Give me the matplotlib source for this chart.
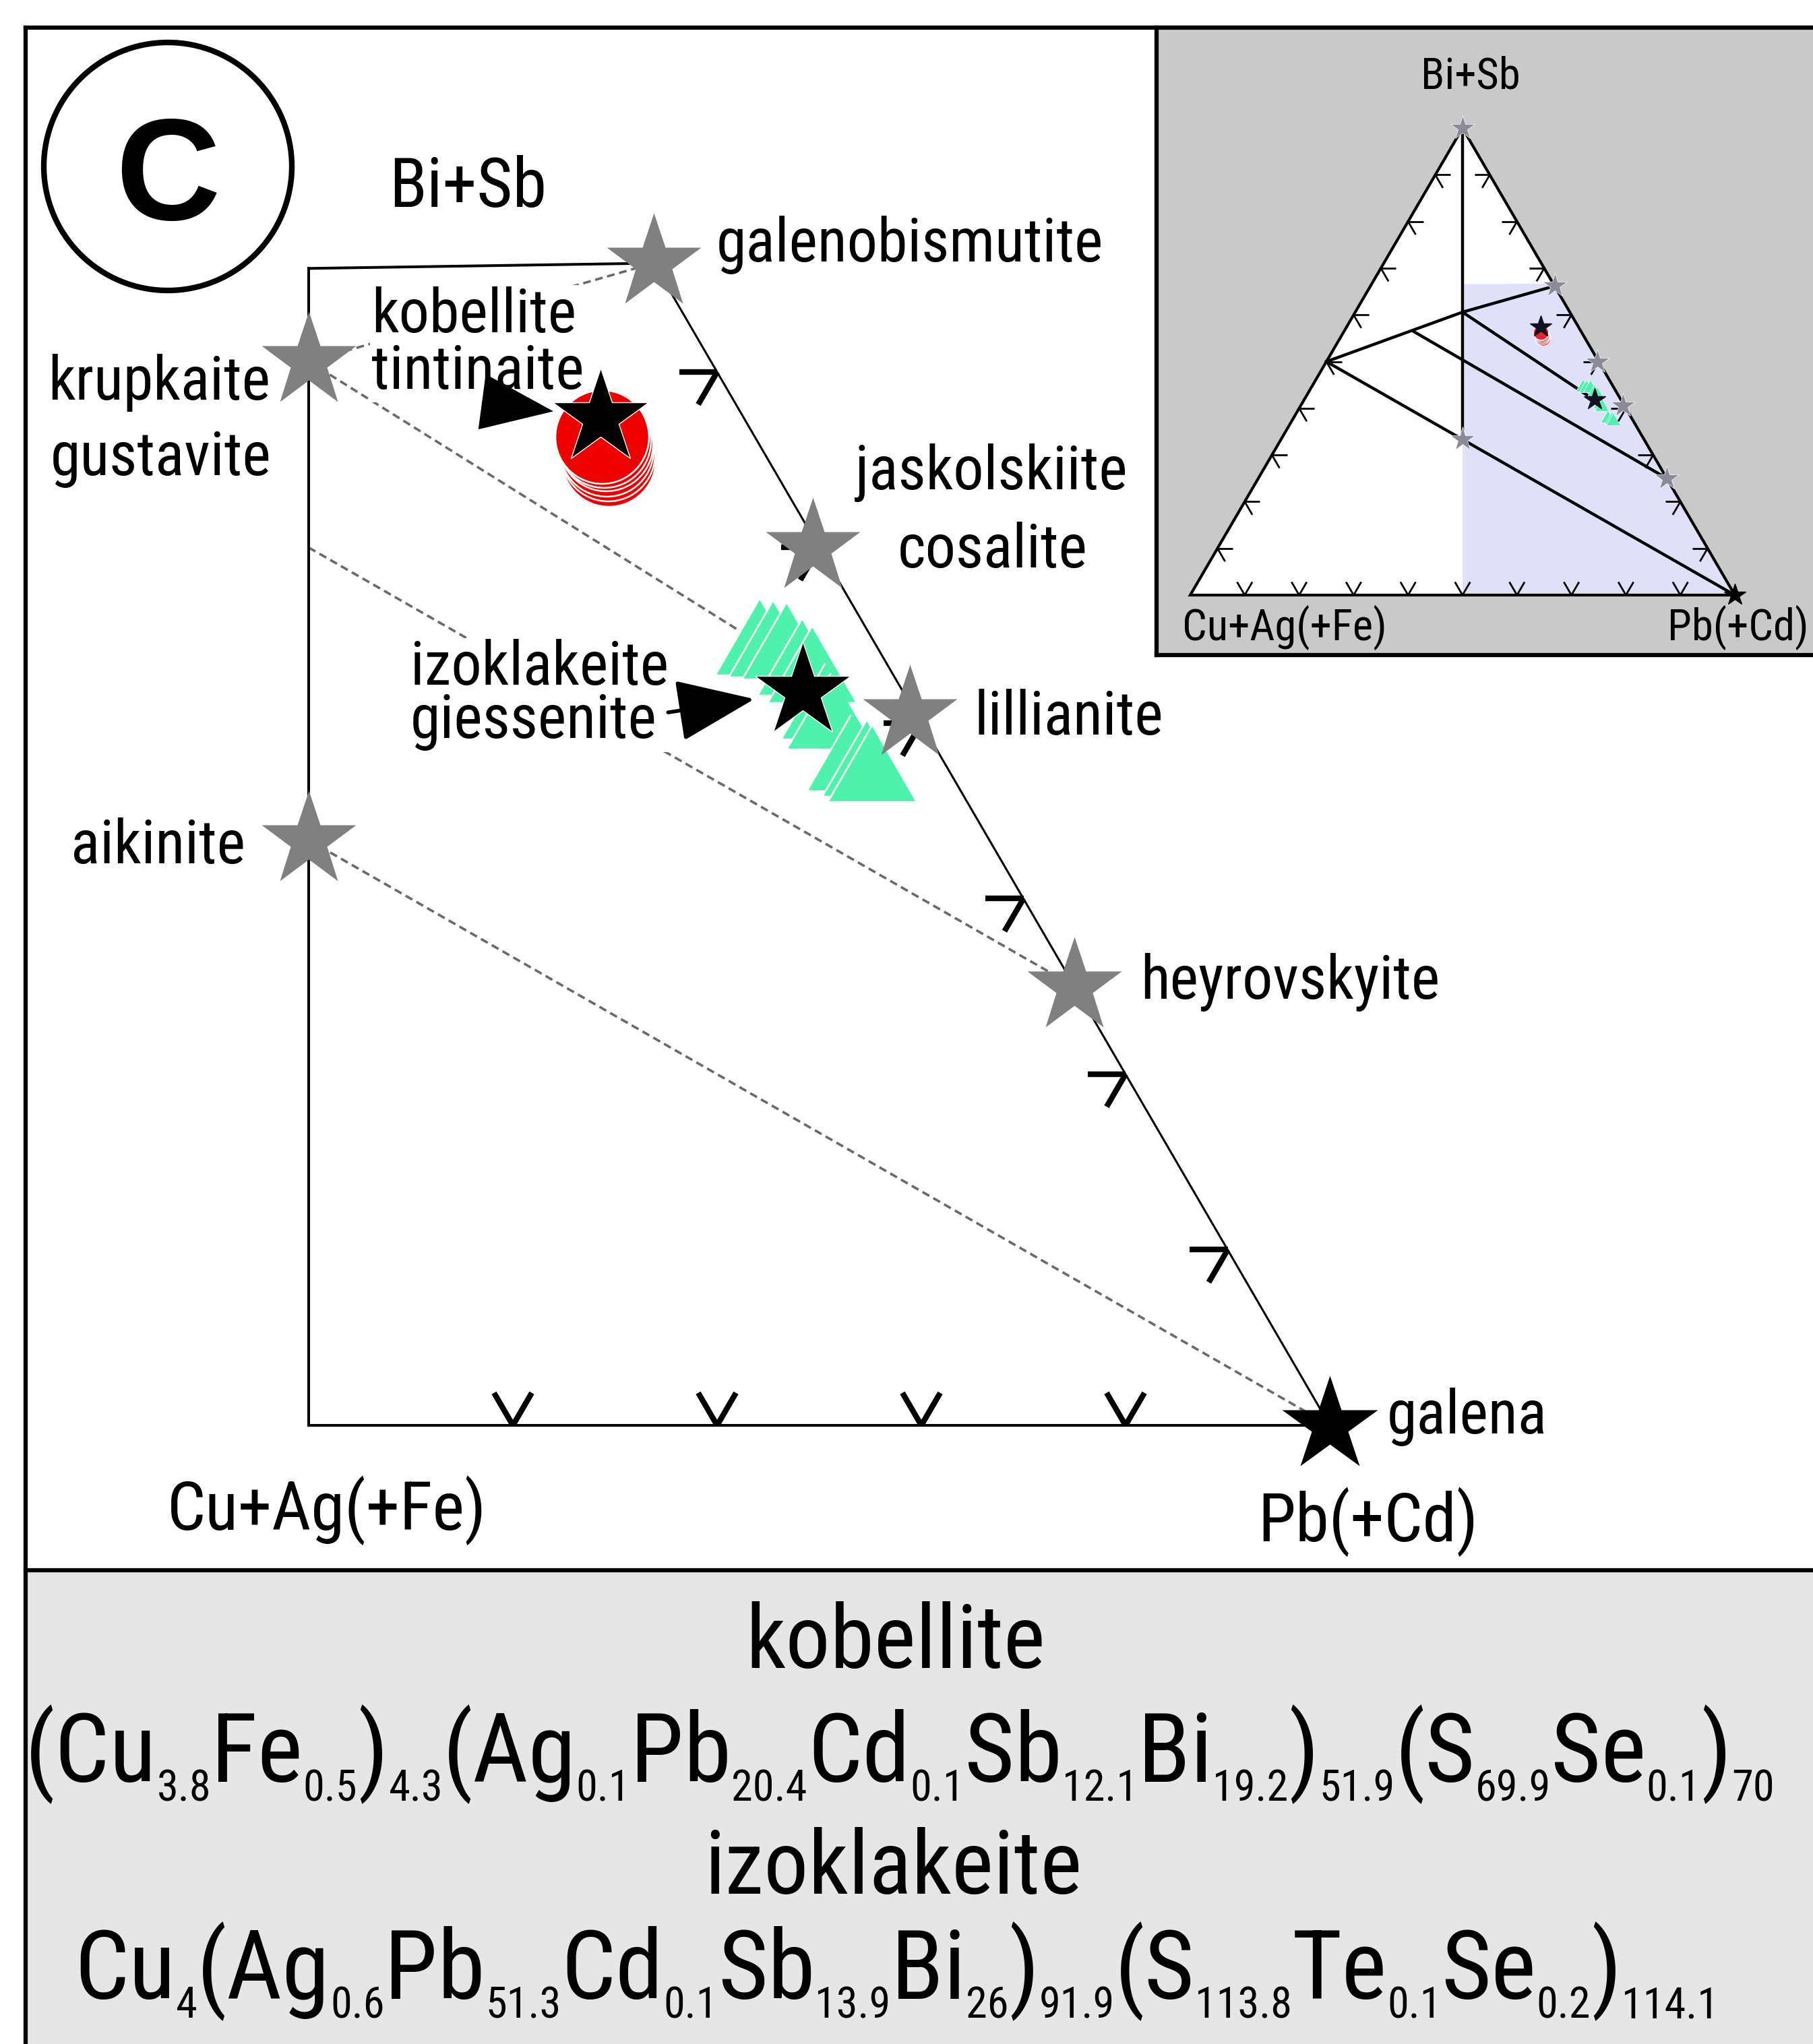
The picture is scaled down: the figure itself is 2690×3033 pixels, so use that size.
import re
import numpy as np
import matplotlib
matplotlib.use('Agg')
import matplotlib.pyplot as plt
from matplotlib import font_manager as fm
from matplotlib.font_manager import FontProperties
from matplotlib.patches import Rectangle, Circle, Polygon
from matplotlib.collections import LineCollection

W, H, DPI = 2690, 3033, 100

# narrow sans if there is one, otherwise plain Liberation Sans a bit smaller
names = {f.name for f in fm.fontManager.ttflist}
FONT, K = 'Liberation Sans', 0.86
for n, k in [('Liberation Sans Narrow', 1.0), ('Arial Narrow', 1.0),
             ('Roboto Condensed', 0.97), ('Open Sans Condensed', 0.95)]:
    if n in names:
        FONT, K = n, k
        break
FAMILY = [FONT, 'DejaVu Sans']
plt.rcParams['font.family'] = FAMILY

# compositions in atomic %: Cu+Ag(+Fe), Pb(+Cd), Bi+Sb
ref_cu = [0.0, 19.7, 0.3, 0.3, 0.0, 33.3]          # galenobismutite, krupkaite, cosalite,
ref_pb = [33.8, 19.7, 49.7, 59.2, 75.0, 33.3]      # lillianite, heyrovskyite, aikinite
ref_bi = [66.2, 60.6, 50.0, 40.5, 25.0, 33.3]
galena = [0.0, 100.0, 0.0]

# kobellite and izoklakeite (mean compositions)
new_cu = [7.0, 4.9]
new_pb = [35.6, 53.3]
new_bi = [57.4, 41.8]

# kobellite analyses
kob_cu = [7.8, 7.7, 7.6, 7.5, 7.5, 7.5]
kob_pb = [37.2, 37.0, 36.8, 36.6, 36.4, 36.2]
kob_bi = [55.0, 55.3, 55.6, 55.9, 56.1, 56.3]

# izoklakeite analyses
izo_cu = [5.5, 4.9, 4.3, 4.0, 3.7, 4.1, 4.1, 4.3, 3.7, 3.6]
izo_pb = [49.6, 50.3, 51.0, 52.3, 53.0, 54.7, 55.2, 57.4, 58.3, 58.7]
izo_bi = [44.9, 44.8, 44.7, 43.8, 43.4, 41.3, 40.7, 38.3, 38.0, 37.7]

# dashed tie lines in the enlarged field
tie_lines = [
    [(19.7, 19.7, 60.6), (0.0, 33.8, 66.2)],
    [(19.7, 19.7, 60.6), (4.3, 52.7, 43.0)],
    [(25.0, 25.0, 50.0), (0.0, 75.0, 25.0)],
    [(33.3, 33.3, 33.3), (0.0, 100.0, 0.0)],
]
# enlarged field outline
field = [(17.05, 17.05, 65.9), (0.0, 33.8, 66.2), (0.0, 100.0, 0.0), (50.0, 50.0, 0.0)]
field_lw = [2.9, 2.2, 2.9, 2.9]

# inset tie lines
inset_lines = [
    [(0, 0, 100), (33.3, 33.3, 33.3)],
    [(50, 0, 50), (19.7, 19.7, 60.6), (0, 33.8, 66.2)],
    [(30.7, 12.9, 56.4), (0, 75, 25)],
    [(19.7, 19.7, 60.6), (4.9, 53.3, 41.8)],
    [(50, 0, 50), (33.3, 33.3, 33.3), (0, 100, 0)],
]
inset_field = [(16.7, 16.7, 66.6), (0, 33.3, 66.7), (0, 100, 0), (50, 50, 0)]
inset_stars = [(0, 0, 100)] + list(zip(ref_cu, ref_pb, ref_bi))
inset_stars = [s for i, s in enumerate(inset_stars) if i != 2]  # no star on krupkaite

main_bottom_ticks = [60, 70, 80, 90]
main_right_ticks = [10, 20, 30, 40, 50, 60]
inset_ticks = [10, 20, 30, 40, 50, 60, 70, 80, 90]

kob_formula = '(Cu_{3.8}Fe_{0.5})_{4.3}(Ag_{0.1}Pb_{20.4}Cd_{0.1}Sb_{12.1}Bi_{19.2})_{51.9}(S_{69.9}Se_{0.1})_{70}'
izo_formula = 'Cu_{4}(Ag_{0.6}Pb_{51.3}Cd_{0.1}Sb_{13.9}Bi_{26})_{91.9}(S_{113.8}Te_{0.1}Se_{0.2})_{114.1}'


def tern(cu, pb, bi):
    cu, pb, bi = (np.asarray(v, float) for v in (cu, pb, bi))
    s = cu + pb + bi
    return (pb + bi / 2) / s, bi / s * np.sqrt(3) / 2


def tern_pts(pts):
    c = np.array(pts, float)
    return tern(c[:, 0], c[:, 1], c[:, 2])


fig = plt.figure(figsize=(W / DPI, H / DPI), dpi=DPI)
rend = fig.canvas.get_renderer()

# page frame, pixel coordinates
bg = fig.add_axes([0, 0, 1, 1], zorder=0)
bg.set_xlim(0, W)
bg.set_ylim(H, 0)
bg.axis('off')
bg.add_patch(Rectangle((38, 2330), W - 38, H - 2330, fc='#e6e6e6', ec='none'))
bg.plot([38, W], [41, 41], color='k', lw=4.5, solid_capstyle='projecting')
bg.plot([38, 38], [41, H], color='k', lw=4.5)
bg.plot([38, W], [2330, 2330], color='k', lw=4.5)
bg.add_patch(Circle((249, 247), 184, fill=False, ec='k', lw=6))
bg.text(249, 326, 'C', fontsize=155, fontweight='bold', family='Liberation Sans',
        ha='center', va='baseline')

# main enlarged ternary field
ax = fig.add_axes([0, 0, 1, 1], zorder=1)
ax.set_xlim(0.5 - 458 / 3030, 0.5 + (W - 458) / 3030)
ax.set_ylim((2115 - H) / 3008, 2115 / 3008)
ax.axis('off')
ax.patch.set_visible(False)

fx, fy = tern_pts(field)
for i in range(4):
    j = (i + 1) % 4
    ax.plot([fx[i], fx[j]], [fy[i], fy[j]], color='k', lw=field_lw[i], zorder=2,
            solid_capstyle='projecting')

for seg in tie_lines:
    x, y = tern_pts(seg)
    ax.plot(x, y, color='#6a6a6a', lw=2.6, ls=(0, (3.2, 1.9)), zorder=1.5)

L = 0.0185
c60, s60 = 0.5, np.sqrt(3) / 2
segs = []
bx, by = tern([100 - p for p in main_bottom_ticks], main_bottom_ticks, [0] * 4)
for x, y in zip(bx, by):
    segs += [[(x, y), (x - L * c60, y + L * s60)], [(x, y), (x + L * c60, y + L * s60)]]
rx, ry = tern([0] * 6, [100 - b for b in main_right_ticks], main_right_ticks)
for x, y in zip(rx, ry):
    segs += [[(x, y), (x - L, y)], [(x, y), (x - L * c60, y - L * s60)]]
ax.add_collection(LineCollection(segs, colors='k', lw=6, zorder=2, capstyle='butt'))

x, y = tern(kob_cu, kob_pb, kob_bi)
ax.plot(x, y, ls='none', marker='o', ms=100, mfc='#ee0000', mec='white', mew=1.8, zorder=4)
tri = [(0, 0.866), (-1, -0.866), (1, -0.866)]
x, y = tern(izo_cu, izo_pb, izo_bi)
for xi, yi in zip(x, y):
    ax.plot(xi, yi, ls='none', marker=tri, ms=94, mfc='#4ef2ad', mec='white', mew=1.8, zorder=4)

x, y = tern(ref_cu, ref_pb, ref_bi)
ax.plot(x, y, ls='none', marker='*', ms=106, color='#808080', mec='none', zorder=5)
x, y = tern(*galena)
ax.plot(x, y, ls='none', marker='*', ms=107, color='k', mec='none', zorder=6)
nx, ny = tern(new_cu, new_pb, new_bi)
ax.plot(nx, ny, ls='none', marker='*', ms=107, color='k', mec='white', mew=1, zorder=6)

# arrows pointing at the two new minerals
ax.annotate('', xy=(nx[0], ny[0]), xytext=(-172, 23), textcoords='offset pixels',
            arrowprops=dict(arrowstyle='-|>,head_length=7.5,head_width=2.9',
                            mutation_scale=10, color='k', lw=1, shrinkA=0, shrinkB=51),
            zorder=7)
ax.annotate('', xy=(nx[1], ny[1]), xytext=(-200, -31), textcoords='offset pixels',
            arrowprops=dict(arrowstyle='-|>,head_length=7.3,head_width=2.9',
                            mutation_scale=10, color='k', lw=4, shrinkA=0, shrinkB=52.5),
            zorder=7)


def label(s, x, y, size=67, ha='left', box=False, gap=None):
    # y is the baseline of the first line, in page pixels
    prop = FontProperties(family=FAMILY, size=size * K)
    kw = {}
    va = 'baseline'
    if '\n' in s:
        w, h, d = rend.get_text_width_height_descent('lp', prop, ismath=False)
        y, va = y - (h - d), 'top'
        kw['linespacing'] = (gap - d) / (h - d)
    t = ax.text(x, y, s, transform=bg.transData, fontproperties=prop, ha=ha,
                va=va, zorder=3, **kw)
    if box:
        t.set_bbox(dict(fc='white', ec='none', pad=1))


label('Bi+Sb', 694, 307, 76, 'center')
label('galenobismutite', 1063, 388)
label('kobellite\ntintinaite', 551, 493, box=True, gap=84)
label('krupkaite', 401, 593, ha='right')
label('gustavite', 75, 705)
label('jaskolskiite', 1269, 726)
label('cosalite', 1332, 842)
label('izoklakeite\ngiessenite', 609, 1016, box=True, gap=79)
label('lillianite', 1445, 1090)
label('aikinite', 105, 1281)
label('heyrovskyite', 1692, 1482)
label('galena', 2058, 2127)
label('Cu+Ag(+Fe)', 248, 2270, 75)
label('Pb(+Cd)', 1866, 2287, 75)

# inset: whole ternary
ins = fig.add_axes([1716 / W, 1 - 972 / H, (W - 1716) / W, (972 - 41) / H], zorder=2)
ins.set_xlim((1716 - 1766) / 808, (W - 1766) / 808)
ins.set_ylim((883 - 972) / 800, (883 - 41) / 800)
ins.set_facecolor('#c9c9c9')
ins.set_xticks([])
ins.set_yticks([])
for s in ['left', 'bottom', 'top']:
    ins.spines[s].set_linewidth(4.5)
ins.spines['right'].set_visible(False)

apex = np.sqrt(3) / 2
ins.add_patch(Polygon([(0, 0), (1, 0), (0.5, apex)], closed=True, fc='white', ec='none', zorder=1))
fx, fy = tern_pts(inset_field)
ins.add_patch(Polygon(np.c_[fx, fy], closed=True, fc='#e0e0f8', ec='none', zorder=1.2))
ins.add_patch(Polygon([(0, 0), (1, 0), (0.5, apex)], closed=True, fill=False,
                      ec='k', lw=3.0, zorder=2))
for seg in inset_lines:
    x, y = tern_pts(seg)
    ins.plot(x, y, color='k', lw=3.2, zorder=2)

Li = 0.028
segs = []
t = np.array(inset_ticks, float)
for x, y in zip(*tern(100 - t, t, 0 * t)):
    segs += [[(x, y), (x - Li * c60, y + Li * s60)], [(x, y), (x + Li * c60, y + Li * s60)]]
for x, y in zip(*tern(0 * t, 100 - t, t)):
    segs += [[(x, y), (x - Li, y)], [(x, y), (x - Li * c60, y - Li * s60)]]
for x, y in zip(*tern(100 - t, 0 * t, t)):
    segs += [[(x, y), (x + Li, y)], [(x, y), (x + Li * c60, y - Li * s60)]]
ins.add_collection(LineCollection(segs, colors='k', lw=2.0, zorder=2))

x, y = tern(kob_cu, kob_pb, kob_bi)
ins.plot(x, y, ls='none', marker='o', ms=16, mfc='#ee2030', mec='white', mew=0.8, zorder=3)
x, y = tern(izo_cu, izo_pb, izo_bi)
ins.plot(x, y, ls='none', marker=tri, ms=15, mfc='#4ef2ad', mec='white', mew=0.6, zorder=3)
x, y = tern_pts(inset_stars)
ins.plot(x, y, ls='none', marker='*', ms=27, color='#8a8a98', mec='white', mew=0.5, zorder=4)
x, y = tern(*galena)
ins.plot(x, y, ls='none', marker='*', ms=24, color='k', zorder=4)
x, y = tern(new_cu, new_pb, new_bi)
ins.plot(x, y, ls='none', marker='*', ms=24, color='#111122', zorder=5)

for s, x, y, ha in [('Bi+Sb', 2182, 131, 'center'), ('Cu+Ag(+Fe)', 1754, 950, 'left'),
                    ('Pb(+Cd)', 2684, 950, 'right')]:
    ins.text(x, y, s, transform=bg.transData, fontsize=48 * K, ha=ha, va='baseline', zorder=6)

# bottom panel: names and formulas
bg.text(1329, 2475, 'kobellite', fontsize=98 * K, ha='center', va='baseline')
bg.text(1325, 2810, 'izoklakeite', fontsize=98 * K, ha='center', va='baseline')


def formula(spec, xc, yb, size, width, sub=0.45, drop=30):
    # lay the formula out piece by piece, then rescale it to the wanted width
    parts = []
    for s_sub, s_main in re.findall(r'_\{([^}]*)\}|([^_]+)', spec):
        is_sub = bool(s_sub)
        t = bg.text(0, yb, s_sub or s_main, ha='left', va='baseline',
                    fontsize=size * (sub if is_sub else 1))
        parts.append((t, is_sub))
    for _ in range(2):
        widths = [t.get_window_extent(rend).width for t, _ in parts]
        k = width / sum(widths)
        for t, _ in parts:
            t.set_fontsize(t.get_fontsize() * k)
        drop *= k
    widths = [t.get_window_extent(rend).width for t, _ in parts]
    pos = xc - sum(widths) / 2
    for (t, is_sub), w in zip(parts, widths):
        t.set_position((pos, yb + (drop if is_sub else 0)))
        pos += w


formula(kob_formula, 1335, 2644, 109, 2597)
formula(izo_formula, 1330, 2966, 109, 2439)

fig.savefig('out.png', dpi=DPI, facecolor='white')
